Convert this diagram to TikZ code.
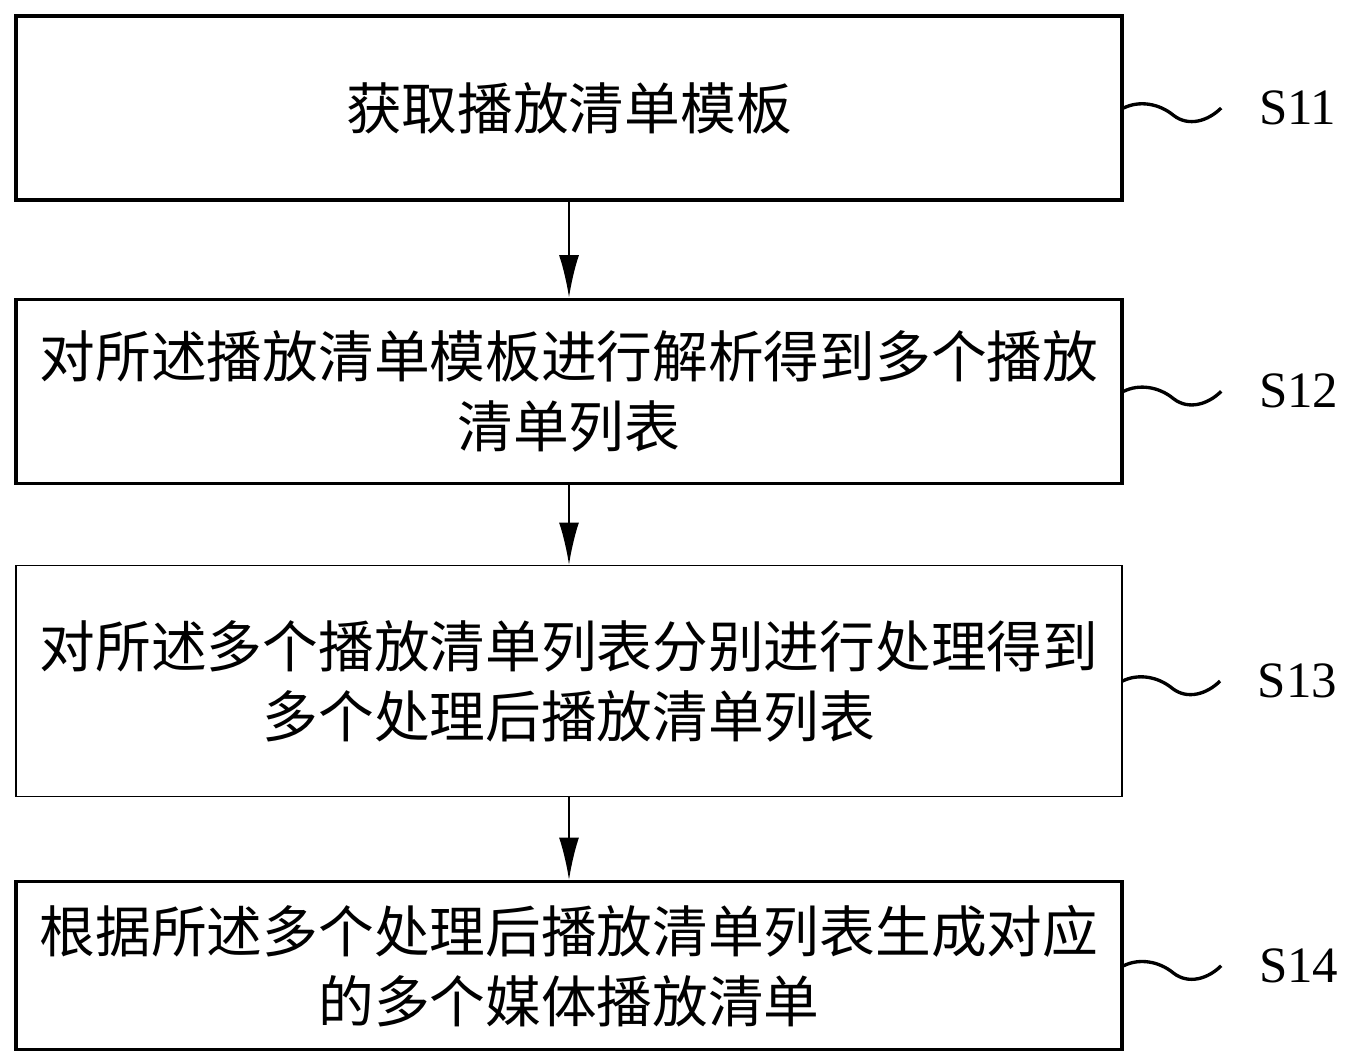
\documentclass[tikz,border=0pt]{standalone}
\usepackage{fontspec}
\newfontfamily\cjk{Noto Sans CJK SC}
\setmainfont{Liberation Serif}
\usetikzlibrary{positioning,arrows.meta}

\tikzset{
    stepbox/.style={draw, rectangle, line width=1.9pt, minimum width=22.12cm, text width=21.6cm,
        align=center, font=\cjk\fontsize{31.7}{39.8}\selectfont},
    steplabel/.style={inner sep=0pt, font=\fontsize{29}{34}\selectfont},
    flow/.style={-{Latex[length=8.5mm,width=4mm]}, line width=1.3pt},
    wave/.style={line width=1.9pt}
}

\begin{document}
\begin{tikzpicture}
            \useasboundingbox (0,0) rectangle (27.04,-21.28);
            \node[stepbox, minimum height=3.68cm] (s11) at (11.38,-2.16) {获取播放清单模板};
            \node[stepbox, minimum height=3.68cm, below=1.92cm of s11] (s12) {对所述播放清单模板进行解析得到多个播放\\清单列表};
            \node[stepbox, minimum height=4.62cm, line width=0.6pt, below=1.6cm of s12] (s13) {对所述多个播放清单列表分别进行处理得到\\多个处理后播放清单列表};
            \node[stepbox, minimum height=3.36cm, below=1.66cm of s13] (s14) {根据所述多个处理后播放清单列表生成对应\\的多个媒体播放清单};

            \foreach \i in {11,12,13,14}
                \node[steplabel, right=2.7cm of s\i] (l\i) {S\i};

            \draw[flow] (s11) -- (s12);
            \draw[flow] (s12) -- (s13);
            \draw[flow] (s13) -- (s14);

            \foreach \i in {11,12,13,14}
                \draw[wave] (s\i.east) .. controls +(0.3,0.15) and +(-0.3,0.25) .. ++(1.0,-0.15)
                    .. controls +(0.3,-0.23) and +(-0.26,-0.26) .. ([xshift=-0.75cm]l\i.west);
        \end{tikzpicture}
\end{document}
